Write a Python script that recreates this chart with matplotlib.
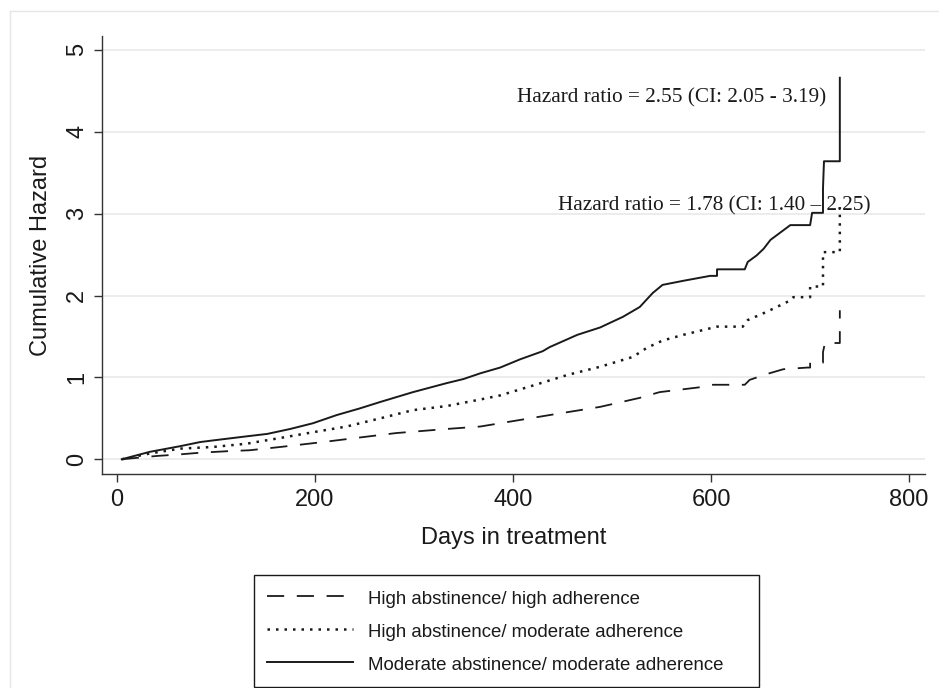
import matplotlib
matplotlib.use("Agg")
import matplotlib.pyplot as plt
from matplotlib.lines import Line2D

# cumulative hazard (days, hazard), vertical jumps repeat the day
days_hh = [5, 40, 64, 84, 114, 134, 165, 208, 248, 282, 333, 367, 387, 437, 488, 528, 548,
           589, 602, 634, 639, 656, 673, 697, 700, 700, 713, 713, 715, 730, 730]
haz_hh = [0.0, 0.04, 0.06, 0.08, 0.10, 0.11, 0.15, 0.21, 0.27, 0.32, 0.37, 0.40, 0.44, 0.54, 0.64,
          0.75, 0.82, 0.88, 0.91, 0.91, 0.97, 1.04, 1.10, 1.12, 1.12, 1.18, 1.18, 1.31, 1.42, 1.42, 1.82]

days_hm = [5, 33, 64, 97, 131, 165, 198, 232, 266, 299, 333, 367, 387, 420, 455, 488, 521, 535,
           551, 572, 606, 632, 637, 656, 680, 683, 700, 700, 713, 713, 730, 730]
haz_hm = [0.0, 0.07, 0.13, 0.15, 0.19, 0.26, 0.33, 0.40, 0.50, 0.60, 0.65, 0.73, 0.78, 0.90, 1.03,
          1.13, 1.25, 1.36, 1.45, 1.52, 1.62, 1.62, 1.70, 1.80, 1.94, 1.98, 1.98, 2.11, 2.11, 2.53,
          2.53, 3.08]

days_mm = [5, 33, 64, 84, 97, 131, 152, 175, 198, 222, 245, 266, 299, 333, 350, 367, 387, 407, 430,
           437, 465, 488, 511, 528, 541, 551, 572, 599, 606, 606, 634, 637, 646, 653, 660, 670, 680,
           700, 702, 713, 713, 714, 730, 730]
haz_mm = [0.0, 0.09, 0.16, 0.21, 0.23, 0.28, 0.31, 0.37, 0.44, 0.54, 0.62, 0.70, 0.82, 0.93, 0.98,
          1.05, 1.12, 1.22, 1.32, 1.37, 1.52, 1.61, 1.74, 1.86, 2.03, 2.13, 2.18, 2.24, 2.24, 2.32,
          2.32, 2.41, 2.49, 2.57, 2.68, 2.77, 2.86, 2.86, 3.01, 3.01, 3.31, 3.64, 3.64, 4.66]

labels = ["High abstinence/ high adherence",
          "High abstinence/ moderate adherence",
          "Moderate abstinence/ moderate adherence"]

hr_texts = ["Hazard ratio = 2.55 (CI: 2.05 - 3.19)",
            "Hazard ratio = 1.78 (CI: 1.40 \u2013 2.25)"]
hr_pos = [(404, 4.36), (445, 3.04)]

x_ticks = [0, 200, 400, 600, 800]
y_ticks = [0, 1, 2, 3, 4, 5]


def make_plot():
    plt.rcParams['font.family'] = ['Liberation Sans', 'DejaVu Sans']
    ink = "#1a1a1a"

    fig = plt.figure(figsize=(9.39, 6.88), dpi=100)
    ax = fig.add_axes([102 / 939, 1 - 474 / 688, 823 / 939, 438 / 688])

    for y in y_ticks:
        ax.axhline(y, color="#eaeaea", lw=1.3, zorder=0)

    ax.plot(days_hh, haz_hh, color=ink, lw=1.3, dashes=(9.5, 7), label=labels[0])
    ax.plot(days_hm, haz_hm, color=ink, lw=1.8, dashes=(1.0, 2.4), label=labels[1])
    ax.plot(days_mm, haz_mm, color=ink, lw=1.4, label=labels[2])

    for txt, (tx, ty) in zip(hr_texts, hr_pos):
        ax.text(tx, ty, txt, family=['Liberation Serif', 'DejaVu Serif'], fontsize=15.3,
                color=ink, ha='left', va='baseline', zorder=1)

    ax.set_xlim(-15, 816)
    ax.set_ylim(-0.18, 5.17)
    ax.set_xticks(x_ticks)
    ax.set_yticks(y_ticks)
    ax.tick_params(axis='both', colors="#333333", labelcolor=ink, labelsize=17,
                   length=6, width=1)
    ax.tick_params(axis='x', pad=5)
    ax.tick_params(axis='y', pad=4)
    for lab in ax.get_yticklabels():
        lab.set_rotation(90)
        lab.set_va('center')

    ax.set_xlabel("Days in treatment", fontsize=17, color=ink, labelpad=11)
    ax.set_ylabel("Cumulative Hazard", fontsize=17, color=ink, labelpad=10)

    for side in ['top', 'right']:
        ax.spines[side].set_visible(False)
    for side in ['left', 'bottom']:
        ax.spines[side].set_color("#333333")
        ax.spines[side].set_linewidth(1)

    leg = fig.legend(loc='upper left',
                     bbox_to_anchor=(254 / 939, 3 / 688, 505 / 939, 110 / 688),
                     mode='expand', borderaxespad=0, fontsize=13.4,
                     handlelength=4.65, handletextpad=0.8, handleheight=1.35,
                     labelspacing=0.64, borderpad=0.68, fancybox=False, framealpha=1)
    leg.get_frame().set_edgecolor(ink)
    leg.get_frame().set_linewidth(1)
    for t in leg.get_texts():
        t.set_color(ink)

    # light outer frame of the graph region
    fig.add_artist(Line2D([10 / 939, 1], [1 - 11 / 688, 1 - 11 / 688], color="#e6e6e6", lw=1))
    fig.add_artist(Line2D([10 / 939, 10 / 939], [0, 1 - 11 / 688], color="#e6e6e6", lw=1))

    fig.savefig("out.png", dpi=100)


def main():
    make_plot()


if __name__ == "__main__":
    main()
